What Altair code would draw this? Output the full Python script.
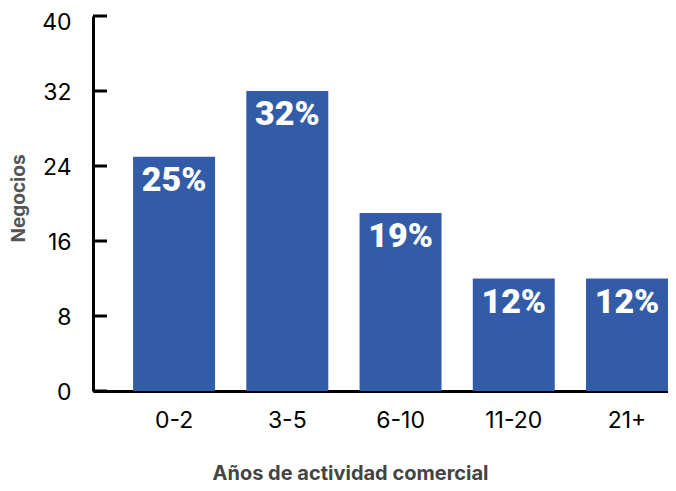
import altair as alt
import pandas as pd

categories = ["0-2", "3-5", "6-10", "11-20", "21+"]
negocios = [25, 32, 19, 12, 12]
etiquetas = ["25%", "32%", "19%", "12%", "12%"]
y_ticks = [0, 8, 16, 24, 32, 40]

df = pd.DataFrame({"cat": categories, "val": negocios, "lab": etiquetas})
ticks_df = pd.DataFrame({"val": y_ticks})

BLUE = "#335CA8"
FONT = "Inter"

x_enc = alt.X(
    "cat:N",
    sort=categories,
    scale=alt.Scale(paddingInner=0.276, paddingOuter=0.177, align=1),
    axis=alt.Axis(
        title="Años de actividad comercial",
        labelAngle=0,
        ticks=False,
        domainColor="black",
        domainWidth=3,
        labelFontSize=23,
        labelFont=FONT,
        labelColor="black",
        labelBaseline="alphabetic",
        labelPadding=36,
        titleFontSize=20,
        titleFont=FONT,
        titleFontWeight="bold",
        titleColor="#444444",
        titleX=257,
        titleY=88,
        titleBaseline="alphabetic",
    ),
)

y_axis = alt.Axis(
    values=y_ticks,
    title="Negocios",
    ticks=False,
    grid=False,
    domainColor="black",
    domainWidth=3,
    labelFontSize=23,
    labelFont=FONT,
    labelColor="black",
    labelPadding=22,
    labelBaseline="middle",
    labelOffset=alt.expr("datum.value == 40 ? 6 : 1"),
    titleFontSize=19,
    titleFont=FONT,
    titleFontWeight="bold",
    titleColor="#555555",
    titleX=-75,
    titleY=182,
    titleBaseline="middle",
)

bars = alt.Chart(df).mark_bar(color=BLUE).encode(
    x=x_enc,
    y=alt.Y("val:Q", scale=alt.Scale(domain=[0, 40]), axis=y_axis),
)

labels = alt.Chart(df).mark_text(
    color="white",
    font="Roboto",
    fontWeight=900,
    fontSize=34,
    baseline="middle",
    dy=24,
).encode(
    x=alt.X("cat:N", sort=categories),
    y=alt.Y("val:Q"),
    text="lab:N",
)

tick_rules = alt.Chart(ticks_df).mark_rule(color="black", strokeWidth=3).encode(
    y=alt.Y("val:Q"),
    x=alt.value(0),
    x2=alt.value(14),
)

chart = alt.layer(bars, labels, tick_rules).properties(
    width=575,
    height=375,
    autosize=alt.AutoSizeParams(type="none"),
    padding={"left": 85, "top": 8, "right": 0, "bottom": 92},
).configure_view(stroke=None)

chart.save("out.html", embed_options={"renderer": "svg", "actions": False})
